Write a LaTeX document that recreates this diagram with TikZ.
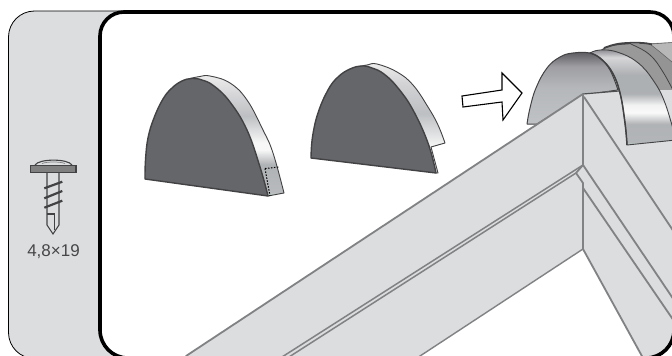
\documentclass[tikz,border=0pt]{standalone}
\usepackage{fontspec}
\setmainfont{Liberation Sans}
\definecolor{panelgrey}{RGB}{220,221,223}
\definecolor{roofline}{RGB}{128,130,132}
\definecolor{faceg}{RGB}{101,102,105}
\definecolor{edgeg}{RGB}{66,66,68}
\definecolor{labelg}{RGB}{70,70,72}
\pgfdeclareverticalshading{stripa}{100bp}{
 rgb(0bp)=(.78,.88,.82);rgb(25bp)=(.78,.88,.82);rgb(26.5bp)=(.72,.73,.74);rgb(38bp)=(.69,.70,.71);rgb(44bp)=(.97,.97,.97);rgb(47bp)=(.97,.97,.97);rgb(58bp)=(.74,.75,.76);rgb(68bp)=(.85,.85,.86);rgb(75bp)=(.93,.93,.93);rgb(100bp)=(.93,.93,.93)}
\pgfdeclareverticalshading{stripb}{100bp}{
 rgb(0bp)=(.92,.92,.93);rgb(25bp)=(.92,.92,.93);rgb(36bp)=(.98,.98,.98);rgb(52bp)=(.74,.75,.76);rgb(66bp)=(.83,.83,.84);rgb(75bp)=(.93,.93,.93);rgb(100bp)=(.93,.93,.93)}
\pgfdeclareverticalshading{stripc}{100bp}{
 rgb(0bp)=(.76,.88,.80);rgb(25bp)=(.76,.88,.80);rgb(26.5bp)=(.70,.71,.72);rgb(36bp)=(.69,.70,.71);rgb(42bp)=(.98,.98,.98);rgb(46bp)=(.95,.95,.95);rgb(52bp)=(.68,.69,.70);rgb(62bp)=(.68,.69,.70);rgb(71bp)=(.84,.84,.85);rgb(75bp)=(.55,.55,.57);rgb(100bp)=(.55,.55,.57)}
\pgfdeclareverticalshading{innerc}{100bp}{
 rgb(0bp)=(.75,.76,.77);rgb(25bp)=(.75,.76,.77);rgb(50bp)=(.71,.72,.73);rgb(65bp)=(.62,.62,.64);rgb(75bp)=(.36,.36,.38);rgb(100bp)=(.36,.36,.38)}
\tikzset{
 x=1pt,y=-1pt,
 roofedge/.style={draw=roofline,line width=1.8pt,line cap=round,line join=round},
 capface/.style={fill=faceg,draw=edgeg,line width=1.4pt,line join=round},
 capedge/.style={draw=edgeg,line width=.9pt,line join=round},
 thread/.style={draw=edgeg,line width=2.2pt},
 screwline/.style={draw=edgeg,line width=1.1pt,line join=miter},
 framepath/.style={insert path={[rounded corners=24pt] (100,100) -- (100,12) -- (674,12) -- (674,100) [rounded corners=28pt] -- (674,358) -- (100,358) -- cycle}},
 panelpath/.style={insert path={[rounded corners=26pt] (160,100) -- (160,11) -- (8.5,11) -- (8.5,358.5) -- (160,358.5) -- cycle}},
 arcsmooth/.style={smooth,tension=.7},
}
\begin{document}
\begin{tikzpicture}
\useasboundingbox (0,0) rectangle (672,356);
\fill[white] (0,0) rectangle (672,356);
\begin{scope}
\clip (0,0) rectangle (672,356);
% side panel
\draw[fill=panelgrey,draw=black,line width=.8pt,panelpath];
% frame interior
\fill[white,framepath];
\begin{scope}
\clip[framepath];
% back bands of third cap
\fill[fill=black!42] (610,45) -- (680,42) -- (680,140) -- (640,100) -- cycle;
\draw[fill=black!28,draw=black!60,line width=.6pt] (650,44) -- (680,42) -- (680,68) -- (672,62) -- (660,52) -- cycle;
\draw[draw=edgeg,line width=.8pt,fill=black!40] plot[arcsmooth] coordinates {(600,51) (610,46) (627,44) (633,45) (650,55) (663,72) (676,96)} -- (680,140) -- (640,100) -- cycle;
\draw[draw=edgeg,line width=1.8pt] plot[arcsmooth] coordinates {(604,48) (615,44.5) (627,43) (643,43) (652,44.5)};
% inner surface of third cap
\draw[capedge,line width=1pt,shading=innerc] plot[arcsmooth] coordinates {(527,124) (530,108) (536,88) (547,68) (560,57) (573,53) (590,53) (600,58) (610,70) (618,90)} -- (583,95) -- (537,124) -- cycle;
% roof
\fill[panelgrey] (186,356) -- (583,94) -- (625,90) -- (680,90) -- (680,358) -- (643,358) -- (583,249) -- (417,358) -- (186,358) -- cycle;
\draw[roofedge] (186,356) -- (583,94);
\draw[draw=edgeg!80!roofline,line width=1.2pt] (583,94) -- (619,91);
\draw[roofedge] (583,94) -- (583,165) -- (576,173) -- (583,183) -- (583,249);
\draw[roofedge] (584,97) -- (674,232);
\draw[roofedge,line width=1.4pt] (417,358) -- (583,249);
\draw[roofedge] (583,249) -- (643,358);
\draw[draw=roofline,line width=1.5pt] (583,165) -- (282,357);
\draw[draw=roofline,line width=1.5pt] (576,173) -- (289,357);
\draw[roofedge] (583,165) -- (674,300);
\draw[roofedge] (583,188) -- (674,321);
% front strip of third cap
\draw[capedge,shading=stripc] plot[arcsmooth] coordinates {(590,53) (600,50) (617,52) (637,62) (653,80) (665,103) (676,140)} -- (627,145) -- plot[arcsmooth] coordinates {(627,145) (625,123) (620,93) (612,72) (600,58) (590,53)} -- cycle;
\draw[edgeg,line width=1.5pt] plot[arcsmooth] coordinates {(627,145) (625,123) (620,93) (612,72) (600,58) (590,53)};
\end{scope}
% frame stroke
\draw[black,line width=3.6pt,framepath];
\end{scope}
% first half-round
\draw[capedge,shading=stripa] plot[arcsmooth] coordinates {(190,78.5) (200,76.5) (210,76) (230,83) (247,100) (263,130) (273,153) (284,193)} -- (268,196) -- (190,78.5) -- cycle;
\draw[black,line width=1pt,dash pattern=on 1.5pt off 1.5pt] (265,168.5) -- (279,167);
\draw[black,line width=1pt,dash pattern=on 1.5pt off 1.5pt] (265,168.5) -- (270,196);
\draw[capface] plot[arcsmooth] coordinates {(145,179) (145.5,160) (148,138) (154,118) (163,99) (172,88) (182,81) (192,78.5) (202,80) (214,86) (230,102) (247,130) (260,167) (268,196)} -- cycle;
% second half-round
\draw[capedge,shading=stripb] plot[arcsmooth] coordinates {(360,66.5) (368,64.8) (377,64) (397,72) (413,85) (428,107) (438,125) (445,143)} -- (431,147) -- (438,173) -- (436,173) -- (360,66.5) -- cycle;
\draw[capface] plot[arcsmooth] coordinates {(311,158) (312.5,137) (318,113) (328,90) (338,77) (350,69) (362,66) (372,68) (384,74) (398,88) (413,110) (428,143) (436,173)} -- cycle;
% arrow
\draw[black,line width=1.1pt,line join=miter,fill=white] (462,96) -- (502,90) -- (502,73) -- (522,93) -- (503,120) -- (502,102) -- (463,107) -- cycle;
% screw
\draw[screwline,fill=panelgrey] (35,165) .. controls (39,158.5) and (68,158.5) .. (72,165);
\draw[draw=gray,line width=.7pt] (42,163.5) .. controls (47,161.5) and (60,161.5) .. (65,163.5);
\draw[screwline,fill=panelgrey] (47,173) -- (47,225) -- (53,234) -- (59,225) -- (59,173);
\draw[screwline] (47,214) -- (54.5,214) -- (54.5,230);
\draw[screwline,fill=black!50] (30.7,165.3) rectangle (76,172.7);
\draw[thread] (44.3,188.3) -- (62.3,181.7);
\draw[thread] (44.3,198.3) -- (62.3,191);
\draw[thread] (44.3,207.7) -- (62.3,200.7);
\node[text=labelg,font=\fontsize{17}{18}\selectfont,inner sep=0pt] (size) at (53.5,252) {4,8×19};
\end{tikzpicture}
\end{document}
